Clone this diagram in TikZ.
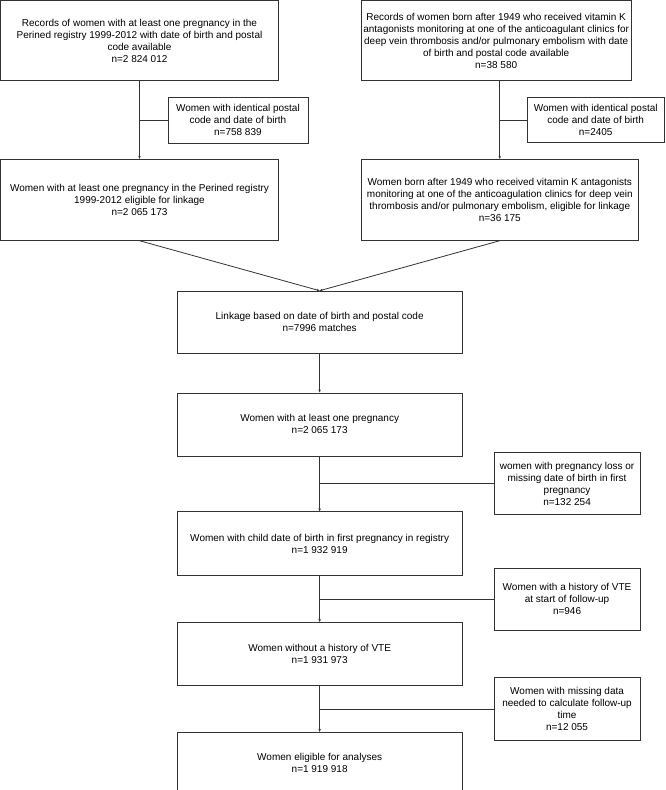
\documentclass[tikz,border=0pt]{standalone}
\usepackage{fontspec}
\setmainfont{Liberation Sans}
\usetikzlibrary{arrows.meta,positioning,calc}

\tikzset{
  box/.style={draw=black!80, line width=0.8pt, align=center, inner sep=2pt,
    minimum width=285pt, minimum height=63pt,
    font=\fontsize{10}{12}\selectfont},
  topbox/.style={box, minimum width=278pt, minimum height=80pt},
  sidebox/.style={box, minimum width=146pt, minimum height=62pt},
  link/.style={draw=black!80, line width=0.8pt},
  arr/.style={link, -{Stealth[length=3pt,width=2.5pt]}}
}

\begin{document}
\begin{tikzpicture}[x=1pt,y=1pt]
  \useasboundingbox (0,0) rectangle (666,-790);

  % the two source registries
  \node[topbox] (A) at (139.5,-40.5) {Records of women with at least one pregnancy in the\\Perined registry 1999-2012 with date of birth and postal\\code available\\n=2 824 012};
  \node[topbox, minimum width=268pt] (D) [right=82pt of A] {Records of women born after 1949 who received vitamin K\\antagonists monitoring at one of the anticoagulant clinics for\\deep vein thrombosis and/or pulmonary embolism with date\\of birth and postal code available\\n=38 580};
  \node[topbox, minimum height=81pt] (C) [below=78pt of A] {Women with at least one pregnancy in the Perined registry\\1999-2012 eligible for linkage\\n=2 065 173};
  \node[topbox, minimum width=277pt, minimum height=81pt] (E) [below right=78pt and 0pt of D.south west] {Women born after 1949 who received vitamin K antagonists\\monitoring at one of the anticoagulation clinics for deep vein\\thrombosis and/or pulmonary embolism, eligible for linkage\\n=36 175};

  \coordinate (a1) at ($(A.south)!0.5!(C.north)$);
  \coordinate (d0) at (E.north |- D.south);
  \coordinate (d1) at ($(d0)!0.5!(E.north)$);
  \node[sidebox, minimum width=140pt, minimum height=46pt] (B1) [right=28pt of a1] {Women with identical postal\\code and date of birth\\n=758 839};
  \node[sidebox, minimum width=137pt, minimum height=45pt] (B2) [right=27pt of d1] {Women with identical postal\\code and date of birth\\n=2405};

  % linkage and main flow
  \coordinate (ce) at ($(C.south)!0.5!(E.south)$);
  \node[box, minimum height=62pt] (lnk) [below=50pt of ce] {Linkage based on date of birth and postal code\\n=7996 matches};
  \node[box] (F) [below=39pt of lnk] {Women with at least one pregnancy\\n=2 065 173};
  \node[box, minimum height=64pt] (H) [below=55pt of F] {Women with child date of birth in first pregnancy in registry\\n=1 932 919};
  \node[box] (I) [below=46pt of H] {Women without a history of VTE\\n=1 931 973};
  \node[box, minimum height=62pt] (J) [below=46pt of I] {Women eligible for analyses\\n=1 919 918};

  % exclusions
  \coordinate (f1) at ($(F.south)!0.5!(H.north)$);
  \coordinate (h1) at ($(H.south)!0.5!(I.north)$);
  \coordinate (i1) at ($(I.south)!0.5!(J.north)$);
  \node[sidebox] (G1) [right=174pt of f1] {women with pregnancy loss or\\missing date of birth in first\\pregnancy\\n=132 254};
  \node[sidebox] (G2) [right=174pt of h1] {Women with a history of VTE\\at start of follow-up\\n=946};
  \node[sidebox, minimum height=63pt] (G3) [right=174pt of i1] {Women with missing data\\needed to calculate follow-up\\time\\n=12 055};

  \draw[arr] (A.south) -- (C.north);
  \draw[arr] (d0) -- (E.north);
  \draw[link] (B1.west) -- (a1);
  \draw[link] (B2.west) -- (d1);
  \draw[arr] (C.south) -- (lnk.north);
  \draw[arr] (E.south) -- (lnk.north);
  \draw[arr] (lnk.south) -- (F.north);
  \draw[arr] (F.south) -- (H.north);
  \draw[arr] (H.south) -- (I.north);
  \draw[arr] (I.south) -- (J.north);
  \draw[link] (G1.west) -- (f1);
  \draw[link] (G2.west) -- (h1);
  \draw[link] (G3.west) -- (i1);
\end{tikzpicture}
\end{document}
